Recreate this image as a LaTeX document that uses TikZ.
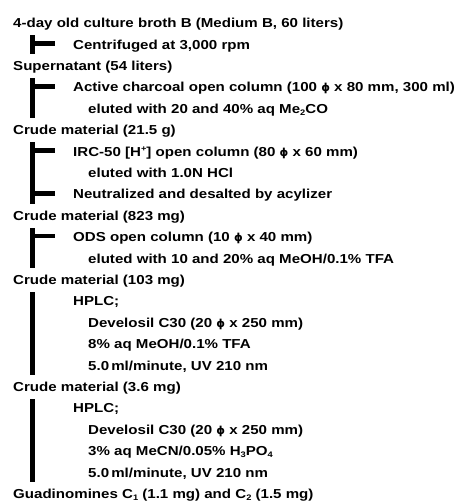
\documentclass[tikz,border=0pt]{standalone}
\usepackage{fontspec}
\setmainfont[FakeStretch=1.16]{Liberation Sans}
\newfontfamily\phifont{DejaVu Sans}
\newcommand{\phisym}{{\phifont\fontsize{11}{13}\selectfont ϕ}}
\newcommand{\sbs}[1]{\raisebox{-2.2pt}{\fontsize{8}{9}\selectfont #1}}
\newcommand{\sps}[1]{\raisebox{4.5pt}{\fontsize{8}{9}\selectfont #1}}
\begin{document}
\begin{tikzpicture}[x=1pt,y=1pt,
  txt/.style={inner sep=0pt, anchor=base west, font=\fontsize{13}{15}\selectfont\bfseries},
  barfill/.style={fill=black, draw=none}]
\useasboundingbox (0,0) rectangle (458,-504);
% level x: 13 (head), 73 (step), 88 (detail)
\node[txt] (t1)  at (13,-27.6)  {4-day old culture broth B (Medium B, 60 liters)};
\node[txt] (t2)  at (73,-49.0)  {Centrifuged at 3,000 rpm};
\node[txt] (t3)  at (13,-70.4)  {Supernatant (54 liters)};
\node[txt] (t4)  at (73,-91.8)  {Active charcoal open column (100 \phisym{} x 80 mm, 300 ml)};
\node[txt] (t5)  at (88,-113.2) {eluted with 20 and 40\% aq Me\sbs{2}CO};
\node[txt] (t6)  at (13,-134.6) {Crude material (21.5 g)};
\node[txt] (t7)  at (73,-156.0) {IRC-50 [H\sps{+}] open column (80 \phisym{} x 60 mm)};
\node[txt] (t8)  at (88,-177.4) {eluted with 1.0N HCl};
\node[txt] (t9)  at (73,-198.8) {Neutralized and desalted by acylizer};
\node[txt] (t10) at (13,-220.2) {Crude material (823 mg)};
\node[txt] (t11) at (73,-241.6) {ODS open column (10 \phisym{} x 40 mm)};
\node[txt] (t12) at (88,-263.0) {eluted with 10 and 20\% aq MeOH/0.1\% TFA};
\node[txt] (t13) at (13,-284.4) {Crude material (103 mg)};
\node[txt] (t14) at (73,-305.8) {HPLC;};
\node[txt] (t15) at (88,-327.2) {Develosil C30 (20 \phisym{} x 250 mm)};
\node[txt] (t16) at (88,-348.6) {8\% aq MeOH/0.1\% TFA};
\node[txt] (t17) at (88,-370.0) {5.0\,ml/minute, UV 210 nm};
\node[txt] (t18) at (13,-391.4) {Crude material (3.6 mg)};
\node[txt] (t19) at (73,-412.8) {HPLC;};
\node[txt] (t20) at (88,-434.2) {Develosil C30 (20 \phisym{} x 250 mm)};
\node[txt] (t21) at (88,-455.6) {3\% aq MeCN/0.05\% H\sbs{3}PO\sbs{4}};
\node[txt] (t22) at (88,-477.0) {5.0\,ml/minute, UV 210 nm};
\node[txt] (t23) at (13,-498.4) {Guadinomines C\sbs{1} (1.1 mg) and C\sbs{2} (1.5 mg)};
% vertical bars
\fill[barfill] (30,-35.0)  rectangle (34.5,-53.8);
\fill[barfill] (30,-77.8)  rectangle (34.5,-118.0);
\fill[barfill] (30,-142.0) rectangle (34.5,-203.6);
\fill[barfill] (30,-227.6) rectangle (34.5,-267.8);
\fill[barfill] (30,-291.8) rectangle (34.5,-374.8);
\fill[barfill] (30,-398.8) rectangle (34.5,-481.8);
% ticks
\fill[barfill] (30,-41.2)  rectangle (55,-45.7);
\fill[barfill] (30,-84.0)  rectangle (55,-88.5);
\fill[barfill] (30,-148.2) rectangle (55,-152.7);
\fill[barfill] (30,-191.0) rectangle (55,-195.5);
\fill[barfill] (30,-233.8) rectangle (55,-238.3);
\end{tikzpicture}
\end{document}
